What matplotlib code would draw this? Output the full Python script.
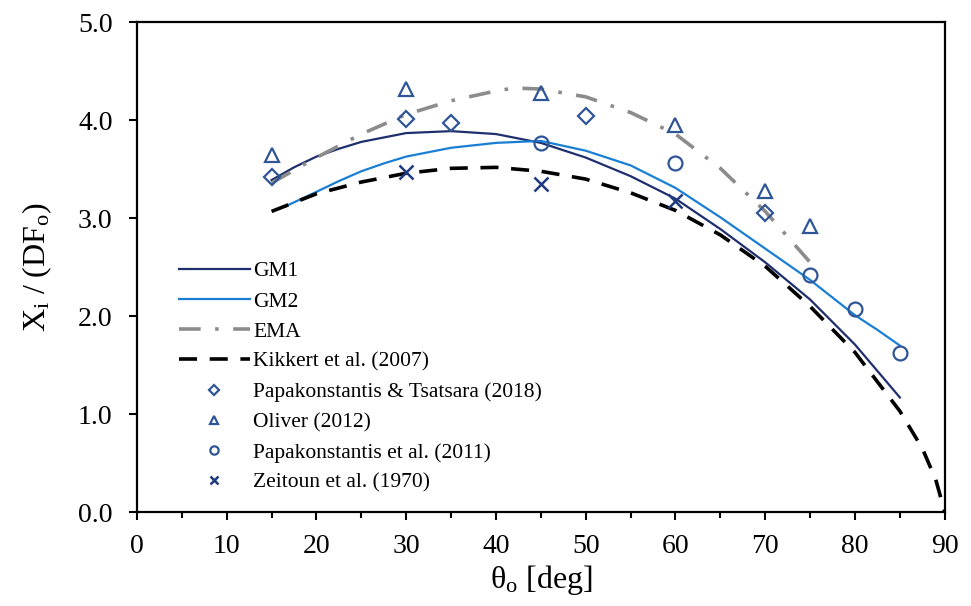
import matplotlib
matplotlib.use('Agg')
import matplotlib.pyplot as plt
from matplotlib.ticker import MultipleLocator, FormatStrFormatter

plt.rcParams['font.family'] = ['Liberation Serif', 'DejaVu Serif']
plt.rcParams['mathtext.fontset'] = 'custom'
plt.rcParams['mathtext.rm'] = 'Liberation Serif'
plt.rcParams['mathtext.it'] = 'Liberation Serif:italic'

# model curves
gm1_x = [15, 17.5, 20, 22.5, 25, 30, 35, 40, 45, 50, 55, 60, 65, 70, 75, 80, 85]
gm1_y = [3.39, 3.52, 3.63, 3.71, 3.78, 3.87, 3.89, 3.86, 3.77, 3.62, 3.43, 3.20, 2.89, 2.55, 2.17, 1.71, 1.17]

gm2_x = [16.5, 20, 22.5, 25, 27.5, 30, 35, 40, 45, 50, 55, 60, 65, 70, 75, 77.5, 80, 82.5, 85]
gm2_y = [3.12, 3.27, 3.38, 3.48, 3.56, 3.63, 3.72, 3.77, 3.79, 3.69, 3.54, 3.31, 3.01, 2.69, 2.37, 2.19, 2.01, 1.86, 1.70]

ema_x = [15, 20, 25, 30, 35, 40, 42, 45, 50, 55, 60, 65, 70, 75]
ema_y = [3.36, 3.62, 3.86, 4.06, 4.20, 4.30, 4.33, 4.32, 4.24, 4.08, 3.86, 3.51, 3.07, 2.55]

kik_x = [15, 20, 25, 30, 35, 40, 45, 50, 55, 60, 65, 70, 75, 80, 85, 87.5, 89, 90]
kik_y = [3.07, 3.25, 3.37, 3.46, 3.51, 3.52, 3.48, 3.40, 3.26, 3.08, 2.83, 2.51, 2.10, 1.63, 1.03, 0.65, 0.33, 0.0]

# experimental data
pt_x = [15, 30, 35, 50, 70]
pt_y = [3.42, 4.01, 3.97, 4.04, 3.05]

oli_x = [15, 30, 45, 60, 70, 75]
oli_y = [3.65, 4.32, 4.28, 3.95, 3.28, 2.92]

pap_x = [45, 60, 75, 80, 85]
pap_y = [3.77, 3.56, 2.42, 2.07, 1.62]

zei_x = [30, 45, 60]
zei_y = [3.47, 3.35, 3.18]

fig = plt.figure(figsize=(9.71, 6.06), dpi=100)
ax = fig.add_axes([0.141, 0.155, 0.832, 0.808])

ax.plot(gm1_x, gm1_y, color='#1f2f6e', lw=1.6, label='GM1')
ax.plot(gm2_x, gm2_y, color='#1a7fd4', lw=1.6, label='GM2')
ax.plot(ema_x, ema_y, color='#8c8c8c', lw=2.6, dashes=(6, 4, 1, 4), label='EMA')
ax.plot(kik_x, kik_y, color='black', lw=2.6, dashes=(5, 3.5), label='Kikkert et al. (2007)')

mc = '#2f5597'
ax.plot(pt_x, pt_y, ls='none', marker='D', ms=8, mfc='none', mec=mc, mew=1.6,
        label='Papakonstantis & Tsatsara (2018)')
ax.plot(oli_x, oli_y, ls='none', marker='^', ms=10, mfc='none', mec=mc, mew=1.6,
        label='Oliver (2012)')
ax.plot(pap_x, pap_y, ls='none', marker='o', ms=10, mfc='none', mec=mc, mew=1.6,
        label='Papakonstantis et al. (2011)')
ax.plot(zei_x, zei_y, ls='none', marker='x', ms=10, mfc='none', mec='#1f3a80', mew=1.8,
        label='Zeitoun et al. (1970)')

ax.set_xlim(0, 90)
ax.set_ylim(0, 5)
ax.xaxis.set_major_locator(MultipleLocator(10))
ax.xaxis.set_minor_locator(MultipleLocator(5))
ax.yaxis.set_major_locator(MultipleLocator(1))
ax.yaxis.set_major_formatter(FormatStrFormatter('%.1f'))
ax.tick_params(axis='both', which='major', direction='out', length=5.5, width=1.5, labelsize=20)
ax.tick_params(axis='both', which='minor', direction='out', length=4.5, width=1.5)
ax.tick_params(axis='x', pad=10)
ax.tick_params(axis='y', pad=12)
for s in ax.spines.values():
    s.set_linewidth(1.6)

ax.set_xlabel(r'$\mathrm{θ_o}$ [deg]', fontsize=23, labelpad=3)
ax.set_ylabel(r'$\mathrm{X_i\ /\ (DF_o)}$', fontsize=23, labelpad=17)

ax.legend(loc='lower left', bbox_to_anchor=(0.028, 0.0), frameon=False, fontsize=15.5,
          markerscale=0.6, handlelength=3.3, handletextpad=0.15, labelspacing=0.47)

fig.savefig('out.png', dpi=100)
